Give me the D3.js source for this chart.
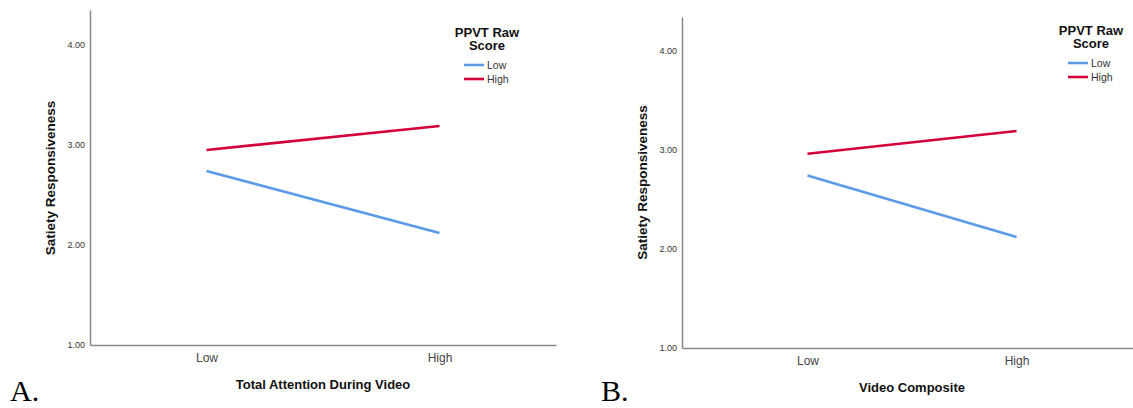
<!DOCTYPE html>
<html><head><meta charset="utf-8">
<script src="https://cdn.jsdelivr.net/npm/d3@7"></script>
<style>body{margin:0;background:#fff}svg{display:block}</style>
</head><body>
<svg id="c" width="1133" height="408"></svg>
<script>
const categories = ["Low", "High"];
const seriesNames = ["Low", "High"];
const yTicks = [1, 2, 3, 4];
// Panel A: Total Attention During Video
const panelA_low = [2.74, 2.12];
const panelA_high = [2.95, 3.19];
// Panel B: Video Composite
const panelB_low = [2.74, 2.12];
const panelB_high = [2.96, 3.19];
const colors = ["#5b9ae6", "#d4003a"];

const svg = d3.select("#c");
const panels = [
  {label:"A.", xTitle:"Total Attention During Video", series:[panelA_low, panelA_high],
   x0:90, x1:556, pad:0.5, yTop:10, yBottom:345, yMaxPx:4.35, labelX:10,
   legX:487, legY:32},
  {label:"B.", xTitle:"Video Composite", series:[panelB_low, panelB_high],
   x0:682, x1:1142, pad:0.6, yTop:17, yBottom:348, yMaxPx:4.34, labelX:601,
   legX:1091, legY:30}
];

panels.forEach(p => {
  const g = svg.append("g");
  const x = d3.scalePoint().domain(categories).range([p.x0, p.x1]).padding(p.pad);
  const y = d3.scaleLinear().domain([1, p.yMaxPx]).range([p.yBottom, p.yTop]);

  // y axis
  const ya = g.append("g").attr("transform", `translate(${p.x0},0)`)
    .call(d3.axisLeft(y).tickValues(yTicks).tickSize(0).tickPadding(5).tickFormat(d3.format(".2f")));
  ya.select(".domain").attr("stroke", "#888").attr("stroke-width", 1.5);
  ya.selectAll("text").attr("font-family", "Arial, 'Liberation Sans', sans-serif")
    .attr("font-size", 9).attr("fill", "#333");

  // x axis
  const xa = g.append("g").attr("transform", `translate(0,${p.yBottom})`)
    .call(d3.axisBottom(x).tickSize(0).tickPadding(8));
  xa.select(".domain").attr("stroke", "#888").attr("stroke-width", 1.5);
  xa.selectAll("text").attr("font-family", "Arial, 'Liberation Sans', sans-serif")
    .attr("font-size", 12).attr("fill", "#444");

  // axis titles
  g.append("text").attr("x", (p.x0 + p.x1) / 2).attr("y", p.yBottom + 44)
    .attr("text-anchor", "middle").attr("font-family", "Arial, 'Liberation Sans', sans-serif")
    .attr("font-weight", "bold").attr("font-size", 13).attr("fill", "#111").text(p.xTitle);
  g.append("text").attr("transform", `translate(${p.x0 - 35},${y(2.67)}) rotate(-90)`)
    .attr("text-anchor", "middle").attr("font-family", "Arial, 'Liberation Sans', sans-serif")
    .attr("font-weight", "bold").attr("font-size", 13.5).attr("fill", "#111").text("Satiety Responsiveness");

  // lines
  const line = d3.line().x((d, i) => x(categories[i])).y(d => y(d));
  p.series.forEach((s, i) => {
    g.append("path").datum(s).attr("d", line).attr("fill", "none")
      .attr("stroke", colors[i]).attr("stroke-width", 2.6);
  });

  // legend
  const lg = g.append("g");
  lg.append("text").attr("x", p.legX).attr("y", p.legY + 5).attr("text-anchor", "middle")
    .attr("font-family", "Arial, 'Liberation Sans', sans-serif").attr("font-weight", "bold")
    .attr("font-size", 13).attr("fill", "#111").text("PPVT Raw");
  lg.append("text").attr("x", p.legX).attr("y", p.legY + 18).attr("text-anchor", "middle")
    .attr("font-family", "Arial, 'Liberation Sans', sans-serif").attr("font-weight", "bold")
    .attr("font-size", 13).attr("fill", "#111").text("Score");
  seriesNames.forEach((n, i) => {
    const yy = p.legY + 33 + i * 14;
    lg.append("line").attr("x1", p.legX - 23).attr("x2", p.legX - 3).attr("y1", yy).attr("y2", yy)
      .attr("stroke", colors[i]).attr("stroke-width", 2.6);
    lg.append("text").attr("x", p.legX).attr("y", yy + 4)
      .attr("font-family", "Arial, 'Liberation Sans', sans-serif").attr("font-size", 10.5)
      .attr("fill", "#333").text(n);
  });

  // panel letter
  svg.append("text").attr("x", p.labelX).attr("y", 401)
    .attr("font-family", "'Liberation Serif', 'Times New Roman', serif")
    .attr("font-size", 30).attr("fill", "#000").text(p.label);
});
</script>
</body></html>
